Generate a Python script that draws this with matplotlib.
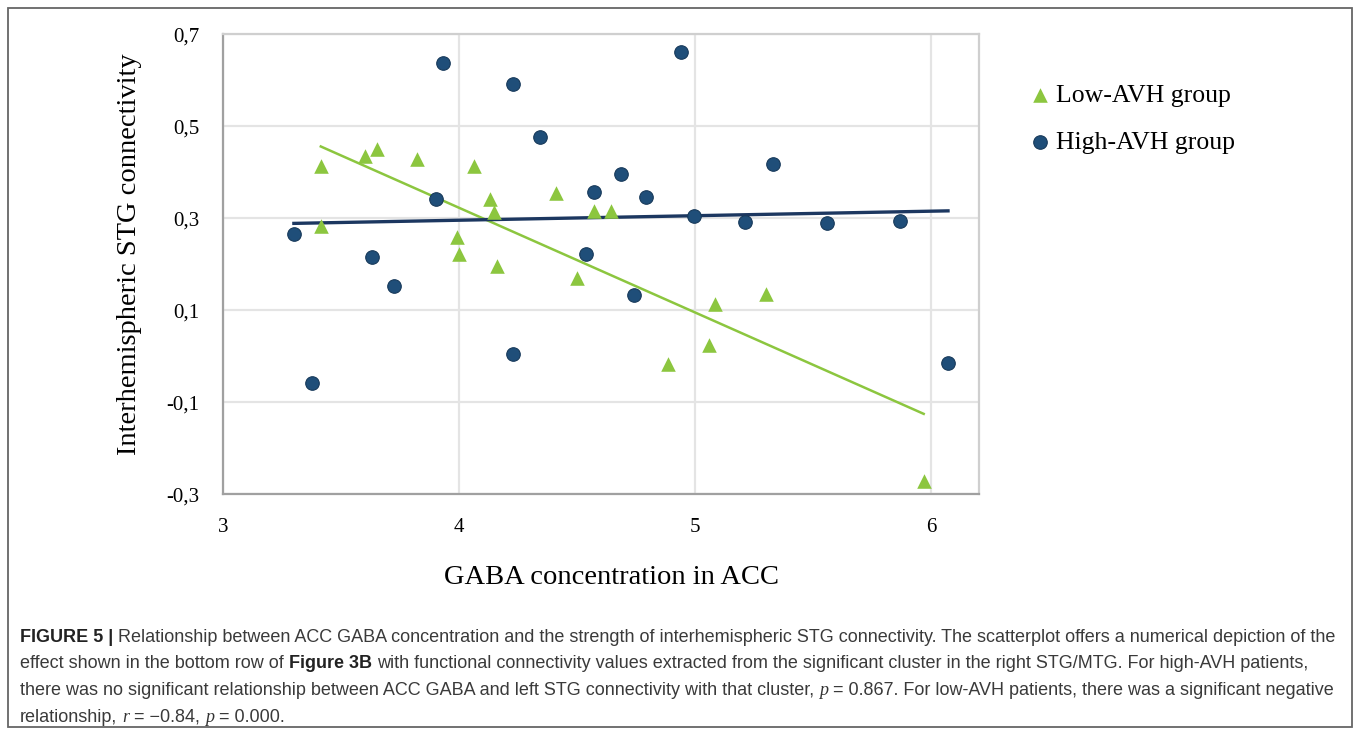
import numpy as np
import matplotlib.pyplot as plt
from matplotlib.patches import Rectangle

# low-AVH group (green triangles)
low_gaba = [3.413, 3.414, 3.602, 3.650, 3.820, 4.060, 3.991, 3.997, 4.131, 4.148,
            4.159, 4.411, 4.497, 4.572, 4.642, 4.882, 5.058, 5.083, 5.300, 5.967]
low_conn = [0.413, 0.283, 0.435, 0.450, 0.429, 0.414, 0.260, 0.222, 0.343, 0.314,
            0.196, 0.356, 0.170, 0.316, 0.316, -0.017, 0.025, 0.114, 0.135, -0.270]

# high-AVH group (blue circles)
high_gaba = [3.299, 3.374, 3.632, 3.723, 3.901, 3.930, 4.229, 4.229, 4.342, 4.570,
             4.537, 4.686, 4.738, 4.790, 4.938, 4.996, 5.209, 5.329, 5.558, 5.867, 6.070]
high_conn = [0.266, -0.059, 0.215, 0.153, 0.343, 0.638, 0.591, 0.006, 0.476, 0.357,
             0.222, 0.396, 0.134, 0.346, 0.662, 0.305, 0.292, 0.417, 0.290, 0.295, -0.015]

xticks = [3, 4, 5, 6]
yticks = [-0.3, -0.1, 0.1, 0.3, 0.5, 0.7]
ytick_labels = ['-0,3', '-0,1', '0,1', '0,3', '0,5', '0,7']

caption_lines = [
    [('FIGURE 5 |', 'b'),
     ('Relationship between ACC GABA concentration and the strength of interhemispheric STG '
      'connectivity. The scatterplot offers a numerical depiction of the', 'n')],
    [('effect shown in the bottom row of', 'n'), ('Figure 3B', 'b'),
     ('with functional connectivity values extracted from the significant cluster in the '
      'right STG/MTG. For high-AVH patients,', 'n')],
    [('there was no significant relationship between ACC GABA and left STG connectivity '
      'with that cluster,', 'n'), ('p', 'i'),
     ('= 0.867. For low-AVH patients, there was a significant negative', 'n')],
    [('relationship,', 'n'), ('r', 'i'), ('= \u22120.84,', 'n'), ('p', 'i'), ('= 0.000.', 'n')],
]

GREEN = '#8cc63f'
BLUE = '#1f4e79'
NAVY = '#1c3760'
W, H = 1358, 734
SERIF = 'Liberation Serif'

fig = plt.figure(figsize=(W / 100, H / 100), dpi=100)
ax = fig.add_axes([223.3 / W, 1 - 494.3 / H, 755.4 / W, 460 / H])

ax.scatter(low_gaba, low_conn, marker='^', s=110, color=GREEN, linewidths=0,
           label='Low-AVH group', zorder=3)
ax.scatter(high_gaba, high_conn, marker='o', s=95, color=BLUE, edgecolors='#17395a',
           linewidths=0.8, label='High-AVH group', zorder=3)

# linear trend lines, as excel draws them (min x to max x of each group)
for gx, gy, col, lw in [(low_gaba, low_conn, GREEN, 1.8), (high_gaba, high_conn, NAVY, 2.4)]:
    k, b = np.polyfit(gx, gy, 1)
    xs = np.array([min(gx), max(gx)])
    ax.plot(xs, k * xs + b, color=col, lw=lw, zorder=2)

ax.set_xlim(3, 6.2)
ax.set_ylim(-0.3, 0.7)
ax.set_xticks(xticks)
ax.set_xticklabels([str(t) for t in xticks], fontfamily=SERIF, fontsize=15)
ax.set_yticks(yticks)
ax.set_yticklabels(ytick_labels, fontfamily=SERIF, fontsize=15)
ax.tick_params(length=0)
ax.tick_params(axis='x', pad=17)
ax.tick_params(axis='y', pad=17)
ax.grid(True, color='#e4e4e4', lw=1.6)
ax.set_axisbelow(True)
for side in ['left', 'bottom']:
    ax.spines[side].set_color('#a0a0a0')
    ax.spines[side].set_linewidth(1.6)
for side in ['top', 'right']:
    ax.spines[side].set_color('#cfcfcf')
    ax.spines[side].set_linewidth(1.6)

ax.set_xlabel('GABA concentration in ACC', fontfamily=SERIF, fontsize=20.5, va='center')
ax.xaxis.set_label_coords((612 - 223.3) / 755.4, (494.3 - 578) / 460)
ax.set_ylabel('Interhemispheric STG connectivity', fontfamily=SERIF, fontsize=20.5, va='center')
ax.yaxis.set_label_coords((130 - 223.3) / 755.4, (494.3 - 254) / 460)

fig.legend(loc='center left', bbox_to_anchor=(1014 / W, 1 - 119 / H), frameon=False,
           prop={'family': SERIF, 'size': 18.5}, handletextpad=0.15, labelspacing=0.95,
           borderpad=0, handlelength=1.0, scatterpoints=1)

# outer frame around the figure + caption
fig.patches.append(Rectangle((8 / W, 1 - 727 / H), 1344 / W, 719 / H, transform=fig.transFigure,
                             fill=False, ec='#666666', lw=1.3))

# caption, drawn run by run so bold / italic bits can sit inline
renderer = fig.canvas.get_renderer()
cap_size = 13


def run_props(style):
    if style == 'b':
        return dict(family='Liberation Sans', weight='bold', color='#222222')
    if style == 'i':
        return dict(family=SERIF, style='italic', color='#333333')
    return dict(family='Liberation Sans', color='#3a3a3a')


def text_width(s, style):
    t = fig.text(0, 0, s, fontsize=cap_size, **run_props(style))
    w = t.get_window_extent(renderer).width
    t.remove()
    return w


space_w = text_width('a a', 'n') - text_width('aa', 'n')
line_y = [637, 664, 690.5, 717]
for runs, yy in zip(caption_lines, line_y):
    x = 20
    for txt, style in runs:
        t = fig.text(x / W, 1 - yy / H, txt, fontsize=cap_size, va='center', **run_props(style))
        x += t.get_window_extent(renderer).width + space_w

fig.savefig('out.png', dpi=100)
